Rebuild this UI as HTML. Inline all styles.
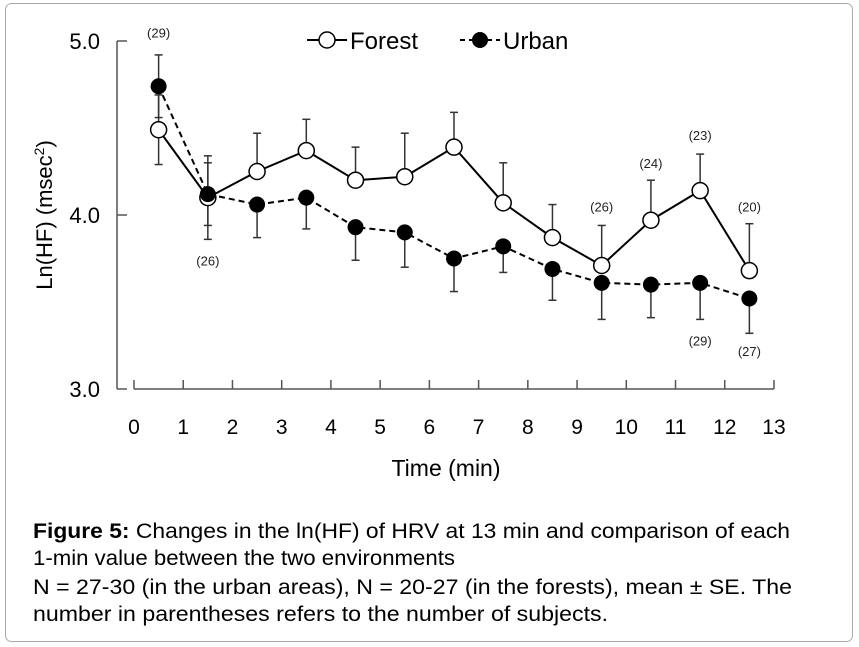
<!DOCTYPE html>
<html><head><meta charset="utf-8"><style>
body{margin:0;background:#fff;width:859px;height:647px;overflow:hidden}
svg{display:block;font-family:"Liberation Sans",Arial,sans-serif}
</style></head><body>
<svg id="chart" width="859" height="647" viewBox="0 0 859 647">
<rect x="5.5" y="3.5" width="847" height="638" rx="6" fill="none" stroke="#aaa"/>
<g id="axes"></g>
<g id="marks"></g>
<g>
<g>
<line x1="307" y1="40" x2="347" y2="40" stroke="#000" stroke-width="2"/>
<circle cx="327" cy="40" r="8" fill="#fff" stroke="#000" stroke-width="1.5"/>
<text x="350" y="49" font-size="24">Forest</text></g>
<g>
<line x1="460" y1="40" x2="500" y2="40" stroke="#000" stroke-width="2" stroke-dasharray="5,4"/>
<circle cx="480" cy="40" r="8" fill="#000"/>
<text x="503" y="49" font-size="24">Urban</text></g>
</g>
<text x="52" y="215" font-size="22" text-anchor="middle" transform="rotate(-90 52 215)">Ln(HF) (msec<tspan font-size="14" dy="-8">2</tspan><tspan dy="8">)</tspan></text>
<text x="446" y="476" font-size="23" text-anchor="middle">Time (min)</text>
<g font-size="21">
<text x="33" y="538" textLength="757" lengthAdjust="spacingAndGlyphs"><tspan font-weight="bold">Figure 5:</tspan> Changes in the ln(HF) of HRV at 13 min and comparison of each</text>
<text x="33" y="565" textLength="422" lengthAdjust="spacingAndGlyphs">1-min value between the two environments</text>
<text x="33" y="594" textLength="759" lengthAdjust="spacingAndGlyphs">N = 27-30 (in the urban areas), N = 20-27 (in the forests), mean ± SE. The</text>
<text x="33" y="621" textLength="575" lengthAdjust="spacingAndGlyphs">number in parentheses refers to the number of subjects.</text>
</g>
</svg>
<script>
const minutes=[0.5,1.5,2.5,3.5,4.5,5.5,6.5,7.5,8.5,9.5,10.5,11.5,12.5];
const forest=[4.49,4.10,4.25,4.37,4.20,4.22,4.39,4.07,3.87,3.71,3.97,4.14,3.68];
const forestSE=[0.20,0.24,0.22,0.18,0.19,0.25,0.20,0.23,0.19,0.23,0.23,0.21,0.27];
const urban=[4.74,4.12,4.06,4.10,3.93,3.90,3.75,3.82,3.69,3.61,3.60,3.61,3.52];
const urbanSE=[0.18,0.18,0.19,0.18,0.19,0.20,0.19,0.15,0.18,0.21,0.19,0.21,0.20];
const yTicks=[3.0,4.0,5.0];
const xTicks=[0,1,2,3,4,5,6,7,8,9,10,11,12,13];
const notes=[{x:0.5,v:5.02,t:"(29)"},{x:1.5,v:3.71,t:"(26)"},{x:9.5,v:4.02,t:"(26)"},{x:10.5,v:4.27,t:"(24)"},{x:11.5,v:4.43,t:"(23)"},{x:12.5,v:4.02,t:"(20)"},{x:11.5,v:3.25,t:"(29)"},{x:12.5,v:3.19,t:"(27)"}];
const NS="http://www.w3.org/2000/svg";
const X=m=>134+m*49.23, Y=v=>389-(v-3)*174;
function mk(p,tag,a){const e=document.createElementNS(NS,tag);for(const k in a)e.setAttribute(k,a[k]);p.appendChild(e);return e;}
const ax=document.getElementById('axes'), mg=document.getElementById('marks');
let e=mk(ax,'line',{x1:117,y1:Y(5),x2:117,y2:Y(3),stroke:'#555','stroke-width':1.5});

e=mk(ax,'line',{x1:X(0),y1:Y(3),x2:X(13),y2:Y(3),stroke:'#555','stroke-width':1.5});

yTicks.forEach(v=>{mk(ax,'line',{x1:117,y1:Y(v),x2:127,y2:Y(v),stroke:'#555','stroke-width':1.5});
const t=mk(ax,'text',{x:100,y:Y(v)+8,'font-size':22,'text-anchor':'end'});t.textContent=v.toFixed(1);
});
xTicks.forEach(v=>{mk(ax,'line',{x1:X(v),y1:Y(3),x2:X(v),y2:Y(3)-9,stroke:'#555','stroke-width':1.5});
const t=mk(ax,'text',{x:X(v),y:434,'font-size':21,'text-anchor':'middle'});t.textContent=v;
});
function err(vals,se,dir){vals.forEach((v,i)=>{const y2=Y(v+dir*se[i]);
const g=mk(mg,'g',{stroke:'#333','stroke-width':1.5});

mk(g,'line',{x1:X(minutes[i]),y1:Y(v),x2:X(minutes[i]),y2:y2});
mk(g,'line',{x1:X(minutes[i])-4,y1:y2,x2:X(minutes[i])+4,y2:y2});});}
err(forest,forestSE,1);
forest.forEach((v,i)=>{ if(i===0||i===1){} });
err(urban,urbanSE,-1);
// forest lower bars for first two points
[0,1].forEach(i=>{const y2=Y(forest[i]-forestSE[i]);const g=mk(mg,'g',{stroke:'#333','stroke-width':1.5});

mk(g,'line',{x1:X(minutes[i]),y1:Y(forest[i]),x2:X(minutes[i]),y2:y2});mk(g,'line',{x1:X(minutes[i])-4,y1:y2,x2:X(minutes[i])+4,y2:y2});});
// urban upper bars for first two points
[0,1].forEach(i=>{const y2=Y(urban[i]+urbanSE[i]);const g=mk(mg,'g',{stroke:'#333','stroke-width':1.5});

mk(g,'line',{x1:X(minutes[i]),y1:Y(urban[i]),x2:X(minutes[i]),y2:y2});mk(g,'line',{x1:X(minutes[i])-4,y1:y2,x2:X(minutes[i])+4,y2:y2});});
e=mk(mg,'polyline',{points:forest.map((v,i)=>X(minutes[i])+','+Y(v)).join(' '),fill:'none',stroke:'#000','stroke-width':2});

e=mk(mg,'polyline',{points:urban.map((v,i)=>X(minutes[i])+','+Y(v)).join(' '),fill:'none',stroke:'#000','stroke-width':2,'stroke-dasharray':'6,4'});

forest.forEach((v,i)=>{const c=mk(mg,'circle',{cx:X(minutes[i]),cy:Y(v),r:8,fill:'#fff',stroke:'#000','stroke-width':1.5});
});
urban.forEach((v,i)=>{const c=mk(mg,'circle',{cx:X(minutes[i]),cy:Y(v),r:8,fill:'#000'});
});
notes.forEach(n=>{const t=mk(mg,'text',{x:X(n.x),y:Y(n.v),'font-size':13,'text-anchor':'middle',fill:'#222'});t.textContent=n.t;
});
</script>
</body></html>
